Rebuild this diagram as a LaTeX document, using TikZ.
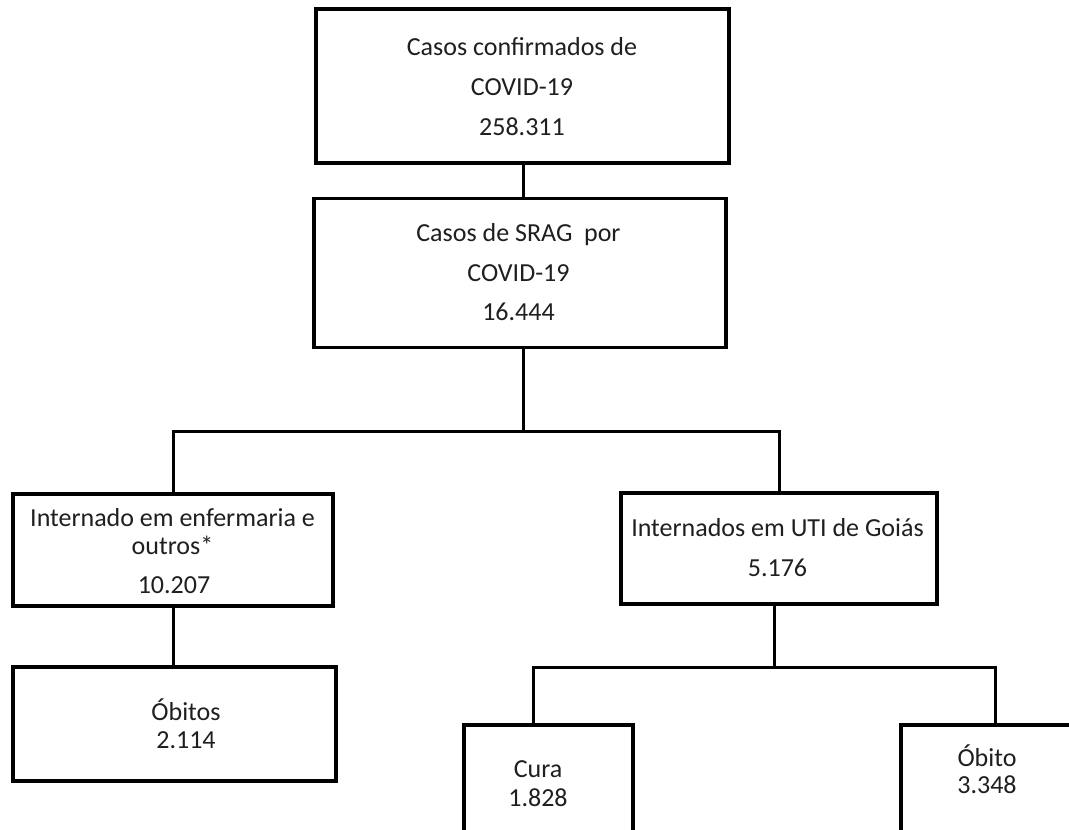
\documentclass[tikz,border=0pt]{standalone}
\usepackage{fontspec}
\setmainfont{Carlito}
\begin{document}
\begin{tikzpicture}[x=1pt,y=-1pt,
  box/.style={draw=black, line width=3.2pt, rectangle, inner sep=0pt},
  conn/.style={draw=black, line width=3pt},
  txt/.style={anchor=base, inner sep=0pt, text=black!88, font=\fontsize{26pt}{30pt}\selectfont}]
\useasboundingbox (0,0) rectangle (1069,830);
\clip (0,0) rectangle (1069,830);
\fill[white] (0,0) rectangle (1069,830);
% boxes
\node[box, minimum width=413pt, minimum height=154pt] (b1) at (522.5,86) {};
\node[box, minimum width=412pt, minimum height=149pt] (b2) at (520,273) {};
\node[box, minimum width=320pt, minimum height=112pt] (b3) at (173,550) {};
\node[box, minimum width=316pt, minimum height=111pt] (b4) at (779,548.5) {};
\node[box, minimum width=323pt, minimum height=114pt] (b5) at (174.5,724) {};
\node[box, minimum width=169pt, minimum height=120pt] (cura) at (548.5,785) {};
\node[box, minimum width=179pt, minimum height=120pt] (obito) at (990.5,785) {};
% junction coordinates
\coordinate (t1) at (523,431);
\coordinate (t2) at (774,667);
\coordinate (c1) at (533,667);
\coordinate (c2) at (995,667);
% connectors
\draw[conn] (b1.south -| t1) -- (b2.north -| t1);
\draw[conn] (b2.south -| t1) -- (t1);
\draw[conn] (b3.north) -- (b3.north |- t1) -- (b4.north |- t1) -- (b4.north);
\draw[conn] (b3.south) -- (b3.south |- b5.north);
\draw[conn] (b4.south -| t2) -- (t2);
\draw[conn] (cura.north -| c1) -- (c1) -- (c2) -- (obito.north -| c2);
% texts
\node[txt] (b1a) at (522,55) {Casos confirmados de};
\node[txt] (b1b) at (522,95) {COVID-19};
\node[txt] (b1c) at (522,135) {258.311};
\node[txt] (b2a) at (518.5,241) {Casos de SRAG\ \ por};
\node[txt] (b2b) at (518.5,281) {COVID-19};
\node[txt] (b2c) at (518.5,320) {16.444};
\node[txt] (b3a) at (172.5,526) {Internado em enfermaria e};
\node[txt] (b3b) at (172.5,554) {outros*};
\node[txt] (b3c) at (174,593) {10.207};
\node[txt] (b4a) at (777.5,536) {Internados em UTI de Goiás};
\node[txt] (b4b) at (777.5,576) {5.176};
\node[txt] (b5a) at (186,720) {Óbitos};
\node[txt] (b5b) at (186,748) {2.114};
\node[txt] (cura1) at (538,777) {Cura};
\node[txt] (cura2) at (538,806) {1.828};
\node[txt] (ob1) at (987,766) {Óbito};
\node[txt] (ob2) at (987,793) {3.348};
\end{tikzpicture}
\end{document}
